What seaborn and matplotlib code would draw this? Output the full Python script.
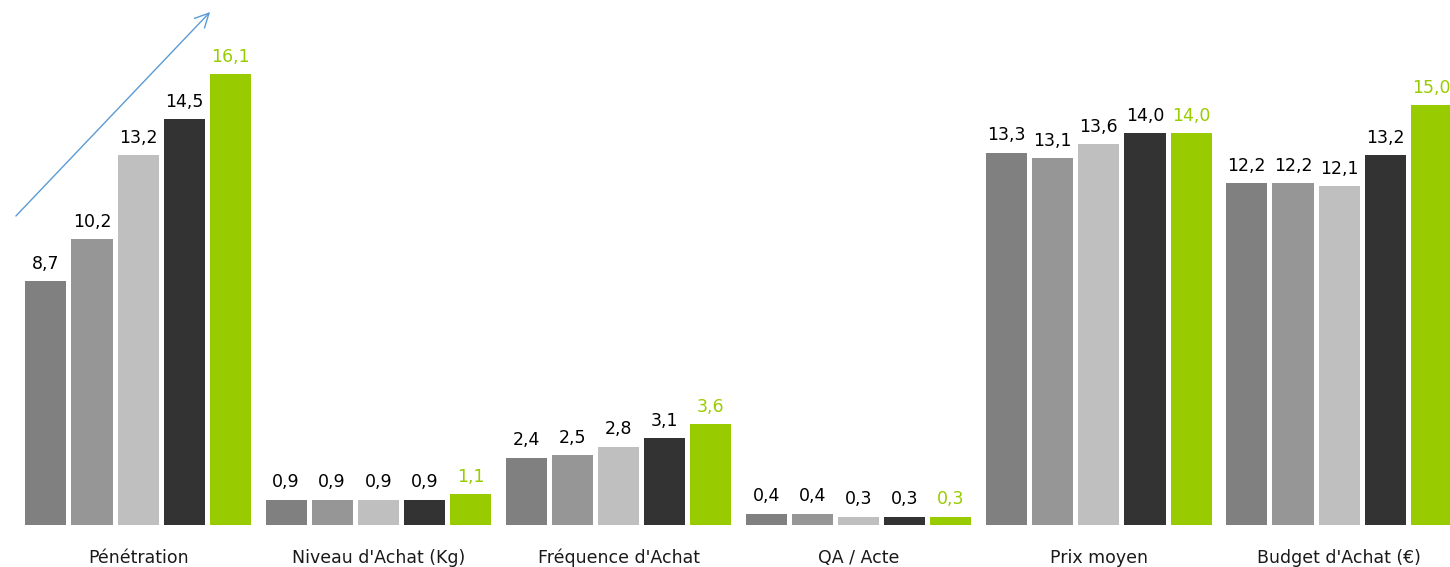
import pandas as pd
import numpy as np
import matplotlib
matplotlib.use('Agg')
import matplotlib.pyplot as plt
import seaborn as sns

categories = ["Pénétration", "Niveau d'Achat (Kg)", "Fréquence d'Achat", "QA / Acte", "Prix moyen", "Budget d'Achat (€)"]
periods = ["P1", "P2", "P3", "P4", "P5"]
p1 = [8.7, 0.9, 2.4, 0.4, 13.3, 12.2]
p2 = [10.2, 0.9, 2.5, 0.4, 13.1, 12.2]
p3 = [13.2, 0.9, 2.8, 0.3, 13.6, 12.1]
p4 = [14.5, 0.9, 3.1, 0.3, 14.0, 13.2]
p5 = [16.1, 1.1, 3.6, 0.3, 14.0, 15.0]

colors = ["#808080", "#969696", "#bfbfbf", "#333333", "#99cc00"]

rows = []
for per, vals in zip(periods, [p1, p2, p3, p4, p5]):
    for c, v in zip(categories, vals):
        rows.append({"cat": c, "period": per, "value": v})
df = pd.DataFrame(rows)

sns.set_style("white")
plt.rcParams['font.family'] = ['DejaVu Sans']

fig = plt.figure(figsize=(14.5, 5.67), dpi=100)
ax = fig.add_axes([0, 42/567, 1, 525/567])

sns.barplot(data=df, x="cat", y="value", hue="period", palette=colors,
            width=0.96, gap=0.11, ax=ax, legend=False, saturation=1, linewidth=0)

for i, cont in enumerate(ax.containers):
    ax.bar_label(cont, labels=[f"{v:.1f}".replace('.', ',') for v in cont.datavalues],
                 padding=6, fontsize=12.5, color="black" if i < 4 else "#99cc00")

x0 = -0.5 - 18/240.2
ax.set_xlim(x0, x0 + 1450/240.2)
ax.set_ylim(0, 525/28)
ax.set_xlabel("")
ax.set_ylabel("")
ax.set_yticks([])
ax.tick_params(axis='x', length=0, labelsize=12.5, pad=17, labelcolor="#1a1a1a")
for s in ax.spines.values():
    s.set_visible(False)

fig.patches.append(matplotlib.patches.FancyArrowPatch(
    (14/1450, 1 - 218/567), (212/1450, 1 - 10/567), transform=fig.transFigure,
    arrowstyle="->,head_length=10,head_width=5", color="#5b9bd5", lw=1, mutation_scale=1))

fig.savefig("out.png", dpi=100)
